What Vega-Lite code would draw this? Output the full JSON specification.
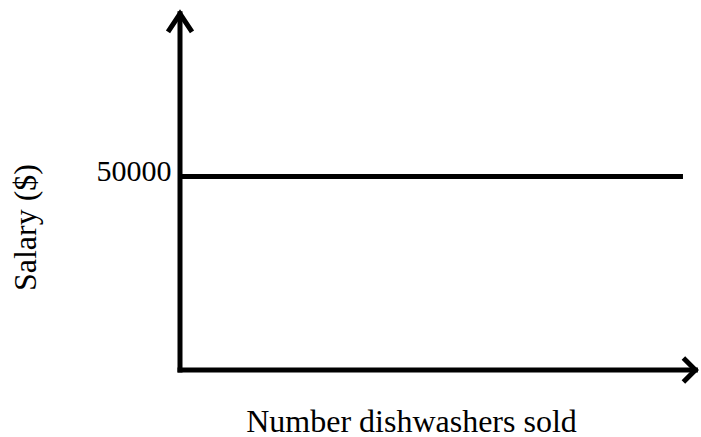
{
  "$schema": "https://vega.github.io/schema/vega-lite/v6.json",
  "width": 518,
  "height": 360,
  "autosize": {"type": "none"},
  "padding": {"left": 180, "top": 10, "right": 3, "bottom": 67},
  "background": "white",
  "config": {
    "view": {"stroke": null},
    "font": "Liberation Serif"
  },
  "layer": [
    {
      "data": {"values": [{"start": 0, "end": 97.1, "salary": 50000}]},
      "mark": {"type": "rule", "color": "black", "strokeWidth": 5},
      "encoding": {
        "x": {
          "field": "start", "type": "quantitative",
          "scale": {"domain": [0, 100], "nice": false, "zero": false},
          "axis": {
            "title": "Number dishwashers sold", "labels": false, "ticks": false, "domain": false, "grid": false,
            "titleFont": "Liberation Serif", "titleFontSize": 32, "titleFontWeight": "normal", "titleColor": "black",
            "titleX": 231, "titleY": 61, "titleBaseline": "alphabetic", "titleAlign": "center"
          }
        },
        "x2": {"field": "end"},
        "y": {
          "field": "salary", "type": "quantitative",
          "scale": {"domain": [0, 93000], "nice": false},
          "axis": {
            "title": "Salary ($)", "values": [50000], "format": "d", "ticks": false, "domain": false, "grid": false,
            "labelFont": "Liberation Serif", "labelFontSize": 30, "labelColor": "black", "labelPadding": 9,
            "labelBaseline": "alphabetic", "labelOffset": 4,
            "titleFont": "Liberation Serif", "titleFontSize": 32, "titleFontWeight": "normal", "titleColor": "black",
            "titleX": -145, "titleY": 217, "titleBaseline": "alphabetic", "titleAlign": "center", "titleAngle": 270
          }
        }
      }
    },
    {
      "data": {"values": [
        {"x0": 0, "x1": 99.5, "y0": 0, "y1": 0},
        {"x0": 0, "x1": 0, "y0": 0, "y1": 92000}
      ]},
      "mark": {"type": "rule", "color": "black", "strokeWidth": 5, "strokeCap": "square"},
      "encoding": {
        "x": {"field": "x0", "type": "quantitative"},
        "x2": {"field": "x1"},
        "y": {"field": "y0", "type": "quantitative"},
        "y2": {"field": "y1"}
      }
    },
    {
      "data": {"values": [{"x": 0, "y": 92000}]},
      "mark": {"type": "point", "shape": "M-1,1.5L0,0L1,1.5", "size": 576, "filled": false, "color": "black", "strokeWidth": 5, "opacity": 1, "strokeJoin": "miter"},
      "encoding": {
        "x": {"field": "x", "type": "quantitative"},
        "y": {"field": "y", "type": "quantitative"}
      }
    },
    {
      "data": {"values": [{"x": 99.5, "y": 0}]},
      "mark": {"type": "point", "shape": "M-1,-1L0,0L-1,1", "size": 576, "filled": false, "color": "black", "strokeWidth": 5, "opacity": 1, "strokeJoin": "miter"},
      "encoding": {
        "x": {"field": "x", "type": "quantitative"},
        "y": {"field": "y", "type": "quantitative"}
      }
    }
  ]
}
